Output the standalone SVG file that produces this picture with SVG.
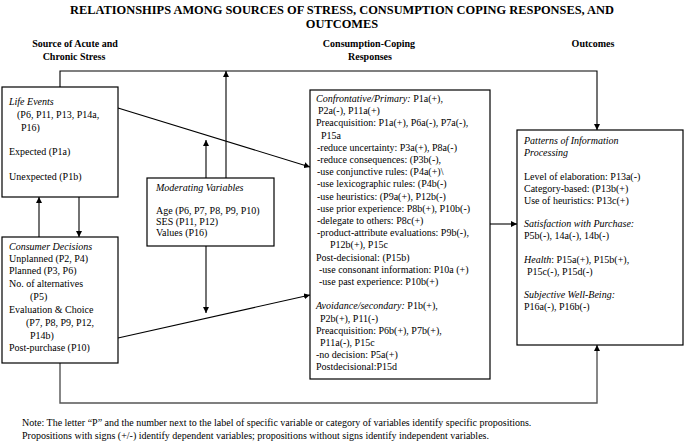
<svg xmlns="http://www.w3.org/2000/svg" width="685" height="441" viewBox="0 0 685 441">
<style>
text{font-family:"Liberation Serif","Times New Roman",serif;font-size:10px;fill:#000}
.t{font-weight:bold;font-size:12.4px}
.h{font-weight:bold;font-size:10px}
.i{font-style:italic}
.box{fill:#fff;stroke:#000;stroke-width:1.2}
.c{fill:none;stroke:#000;stroke-width:1.1}
.g{fill:none;stroke:#555;stroke-width:1.4}
</style>
<defs>
<marker id="a" viewBox="0 0 10 10" refX="10" refY="5" markerWidth="6" markerHeight="6" markerUnits="userSpaceOnUse" orient="auto"><path d="M0,0L10,5L0,10z" fill="#000"/></marker>
</defs>
<rect width="685" height="441" fill="#fff"/>
<g id="title">
<text class="t" x="342" y="14" text-anchor="middle">RELATIONSHIPS AMONG SOURCES OF STRESS, CONSUMPTION COPING RESPONSES, AND</text>
<text class="t" x="342" y="28" text-anchor="middle">OUTCOMES</text>
<text class="h" x="75" y="47" text-anchor="middle">Source of Acute and</text>
<text class="h" x="74" y="60" text-anchor="middle">Chronic Stress</text>
<text class="h" x="369" y="47" text-anchor="middle">Consumption-Coping</text>
<text class="h" x="370" y="60" text-anchor="middle">Responses</text>
<text class="h" x="593" y="47" text-anchor="middle">Outcomes</text>
</g>
<g id="connectors">
<polyline class="c" points="60,87 60,71 597,71 597,130" marker-end="url(#a)"/>
<line class="c" x1="226" y1="178" x2="226" y2="71" marker-end="url(#a)"/>
<line class="c" x1="118" y1="108" x2="310" y2="167" marker-end="url(#a)"/>
<line class="c" x1="206" y1="178" x2="206" y2="140" marker-end="url(#a)"/>
<line class="c" x1="118" y1="338" x2="310" y2="295" marker-end="url(#a)"/>
<line class="c" x1="206" y1="246" x2="206" y2="313" marker-end="url(#a)"/>
<line class="c" x1="39" y1="237" x2="39" y2="197" marker-end="url(#a)"/>
<line class="c" x1="79" y1="197" x2="79" y2="237" marker-end="url(#a)"/>
<line class="c" x1="490" y1="224" x2="517" y2="224" marker-end="url(#a)"/>
<polyline class="g" points="60,363 60,403 597,403 597,345" marker-end="url(#a)"/>
</g>
<g id="life-events">
<rect class="box" x="2" y="87" width="116" height="110"/>
<text class="i" x="9" y="105">Life Events</text>
<text x="17" y="118">(P6, P11, P13, P14a,</text>
<text x="21" y="131">P16)</text>
<text x="9" y="155">Expected (P1a)</text>
<text x="9" y="180">Unexpected (P1b)</text>
</g>
<g id="consumer-decisions">
<rect class="box" x="2" y="237" width="116" height="126"/>
<text class="i" x="9" y="250">Consumer Decisions</text>
<text x="9" y="262">Unplanned (P2, P4)</text>
<text x="9" y="274">Planned (P3, P6)</text>
<text x="9" y="287">No. of alternatives</text>
<text x="30" y="300">(P5)</text>
<text x="9" y="313">Evaluation &amp; Choice</text>
<text x="26" y="326">(P7, P8, P9, P12,</text>
<text x="30" y="339">P14b)</text>
<text x="9" y="351">Post-purchase (P10)</text>
</g>
<g id="moderating-variables">
<rect class="box" x="147" y="178" width="127" height="68"/>
<text class="i" x="156" y="191">Moderating Variables</text>
<text x="156" y="214">Age (P6, P7, P8, P9, P10)</text>
<text x="156" y="225">SES (P11, P12)</text>
<text x="156" y="236">Values (P16)</text>
</g>
<g id="coping-responses">
<rect class="box" x="310" y="90" width="180" height="289"/>
<text x="316" y="102"><tspan class="i">Confrontative/Primary:</tspan> P1a(+),</text>
<text x="318" y="114">P2a(-), P11a(+)</text>
<text x="316" y="126">Preacquisition: P1a(+), P6a(-), P7a(-),</text>
<text x="321" y="139">P15a</text>
<text x="317" y="151">-reduce uncertainty: P3a(+), P8a(-)</text>
<text x="317" y="163">-reduce consequences: (P3b(-),</text>
<text x="317" y="175">-use conjunctive rules: (P4a(+)\</text>
<text x="317" y="187">-use lexicographic rules: (P4b(-)</text>
<text x="317" y="200">-use heuristics: (P9a(+), P12b(-)</text>
<text x="317" y="212">-use prior experience: P8b(+), P10b(-)</text>
<text x="317" y="224">-delegate to others: P8c(+)</text>
<text x="317" y="236">-product-attribute evaluations: P9b(-),</text>
<text x="330" y="248">P12b(+), P15c</text>
<text x="316" y="261">Post-decisional: (P15b)</text>
<text x="319" y="273">-use consonant information: P10a (+)</text>
<text x="319" y="285">-use past experience: P10b(+)</text>
<text x="316" y="309"><tspan class="i">Avoidance/secondary:</tspan> P1b(+),</text>
<text x="320" y="322">P2b(+), P11(-)</text>
<text x="316" y="334">Preacquisition: P6b(+), P7b(+),</text>
<text x="320" y="346">P11a(-), P15c</text>
<text x="316" y="358">-no decision: P5a(+)</text>
<text x="316" y="370">Postdecisional:P15d</text>
</g>
<g id="outcomes">
<rect class="box" x="517" y="130" width="166" height="215"/>
<text class="i" x="524" y="144">Patterns of Information</text>
<text class="i" x="524" y="156">Processing</text>
<text x="524" y="180">Level of elaboration: P13a(-)</text>
<text x="524" y="192">Category-based: (P13b(+)</text>
<text x="524" y="204">Use of heuristics: P13c(+)</text>
<text class="i" x="524" y="227">Satisfaction with Purchase:</text>
<text x="524" y="239">P5b(-), 14a(-), 14b(-)</text>
<text x="524" y="263"><tspan class="i">Health</tspan>: P15a(+), P15b(+),</text>
<text x="527" y="275">P15c(-), P15d(-)</text>
<text class="i" x="524" y="298">Subjective Well-Being:</text>
<text x="524" y="310">P16a(-), P16b(-)</text>
</g>
<g id="note">
<text x="22" y="426">Note: The letter “P” and the number next to the label of specific variable or category of variables identify specific propositions.</text>
<text x="22" y="439">Propositions with signs (+/-) identify dependent variables; propositions without signs identify independent variables.</text>
</g>
</svg>
